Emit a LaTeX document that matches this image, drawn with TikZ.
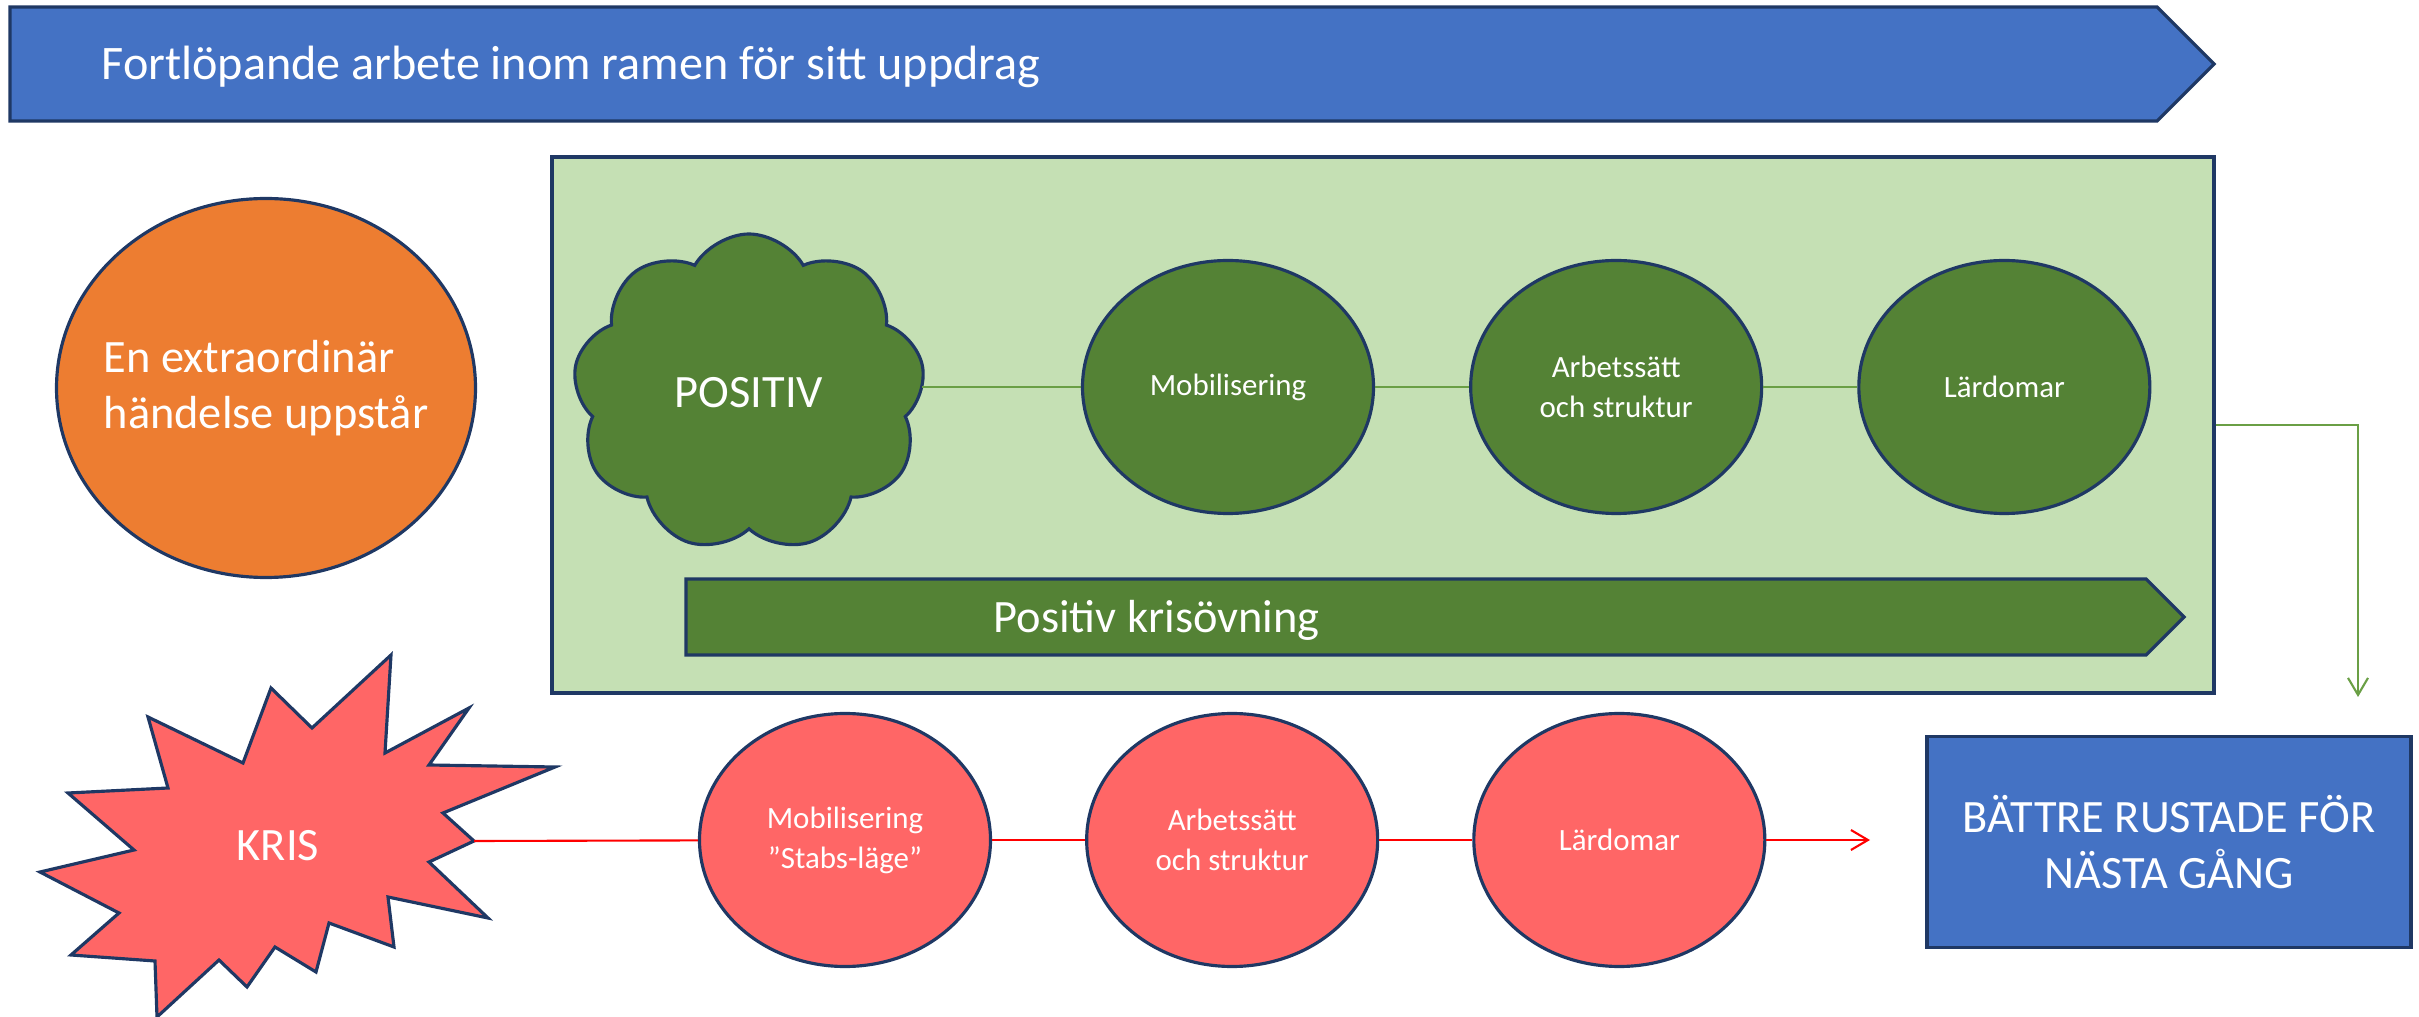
\documentclass[tikz,border=0pt]{standalone}
\usepackage{fontspec}
\setmainfont{Carlito}
\usetikzlibrary{shapes,arrows.meta,positioning}

\definecolor{barblue}{HTML}{4472C4}
\definecolor{panelgreen}{HTML}{C5E0B4}
\definecolor{darkgreen}{HTML}{548235}
\definecolor{eventorange}{HTML}{ED7D31}
\definecolor{salmon}{HTML}{FF6666}
\definecolor{navy}{HTML}{1F3864}
\definecolor{linkgreen}{HTML}{6A9F45}

\newcommand{\bigtxt}{\fontsize{13.2}{16}\selectfont}
\newcommand{\smalltxt}{\fontsize{8.8}{11.4}\selectfont}

\begin{document}
\begin{tikzpicture}[
    outline/.style={draw=navy, line width=0.9pt},
    blob/.style={outline, ellipse, minimum width=2.91cm, minimum height=2.53cm, inner sep=0pt, align=center, text=white, font=\smalltxt},
    glink/.style={draw=linkgreen, line width=0.6pt},
    rlink/.style={draw=red, line width=0.6pt},
    tip/.style={-{Straight Barb[length=1.7mm, width=2.0mm]}}
]
    \useasboundingbox (0,0) rectangle (24.19,-10.17);

    % fortlöpande arbete
    \draw[outline, fill=barblue] (0.10,-0.07) -- (21.57,-0.07) -- (22.14,-0.64) -- (21.57,-1.21) -- (0.10,-1.21) -- cycle;
    \node[anchor=base west, inner sep=0pt, text=white, font=\fontsize{13.7}{16}\selectfont] (ongoing) at (1.01,-0.80) {Fortlöpande arbete inom ramen för sitt uppdrag};

    \node[outline, ellipse, fill=eventorange, minimum width=4.19cm, minimum height=3.79cm, inner sep=0pt,
          label={[align=left, text=white, font=\bigtxt]center:{En extraordinär\\händelse uppstår}}] (event) at (2.66,-3.88) {};

    % övningen
    \node[outline, fill=panelgreen, minimum width=16.62cm, minimum height=5.36cm, inner sep=0pt] (panel) at (13.83,-4.25) {};
    \draw[outline, fill=darkgreen] (6.86,-5.79) -- (21.46,-5.79) -- (21.84,-6.17) -- (21.46,-6.55) -- (6.86,-6.55) -- cycle;
    \node[anchor=base west, inner sep=0pt, text=white, font=\bigtxt] (drill) at (9.93,-6.33) {Positiv krisövning};

    \node[outline, cloud, cloud puffs=9, cloud puff arc=120, aspect=1.1, minimum width=3.52cm, minimum height=3.18cm, inner sep=0pt, fill=darkgreen, text=white, font=\bigtxt] (cloud) at (7.49,-3.93) {POSITIV};
    \node[blob, fill=darkgreen] (gmob) at (12.28,-3.87) {Mobilisering};
    \node[blob, fill=darkgreen, right=0.94cm of gmob] (garb) {Arbetssätt\\och struktur};
    \node[blob, fill=darkgreen, right=0.94cm of garb] (glar) {Lärdomar};

    \draw[glink] (gmob.west -| cloud.east) -- (gmob.west);
    \draw[glink] (gmob) -- (garb);
    \draw[glink] (garb) -- (glar);
    \coordinate (down) at (23.58,-6.97);
    \draw[glink, tip] (panel.east) -| (down);

    % krisen
    \coordinate (peak) at (4.74,-8.41);
    \draw[outline, fill=salmon, line join=miter] (3.91,-6.55) -- (3.85,-7.53) -- (4.69,-7.08) -- (4.29,-7.65) -- (5.55,-7.67) -- (4.43,-8.13) -- (peak) -- (4.29,-8.62) -- (4.88,-9.18) -- (3.88,-8.97) -- (3.94,-9.47) -- (3.29,-9.23) -- (3.16,-9.72) -- (2.75,-9.47) -- (2.47,-9.87) -- (2.19,-9.60) -- (1.57,-10.17) -- (1.55,-9.61) -- (0.71,-9.55) -- (1.19,-9.13) -- (0.40,-8.72) -- (1.34,-8.50) -- (0.68,-7.93) -- (1.68,-7.88) -- (1.48,-7.17) -- (2.43,-7.63) -- (2.71,-6.88) -- (3.12,-7.28) -- cycle;
    \node[anchor=base, inner sep=0pt, text=white, font=\bigtxt] (kris) at (2.78,-8.60) {KRIS};

    \node[blob, fill=salmon] (rmob) at (8.45,-8.40) {Mobilisering\\”Stabs-läge”};
    \node[blob, fill=salmon, right=0.93cm of rmob] (rarb) {Arbetssätt\\och struktur};
    \node[blob, fill=salmon, right=0.93cm of rarb] (rlar) {Lärdomar};
    \coordinate (rend) at (18.70,-8.40);

    \draw[rlink] (peak) -- (rmob);
    \draw[rlink] (rmob) -- (rarb);
    \draw[rlink] (rarb) -- (rlar);
    \draw[rlink, tip] (rlar) -- (rend);

    \node[outline, fill=barblue, minimum width=4.84cm, minimum height=2.11cm, align=center, text=white, font=\bigtxt] (better) at (21.69,-8.42) {BÄTTRE RUSTADE FÖR\\NÄSTA GÅNG};
\end{tikzpicture}
\end{document}
